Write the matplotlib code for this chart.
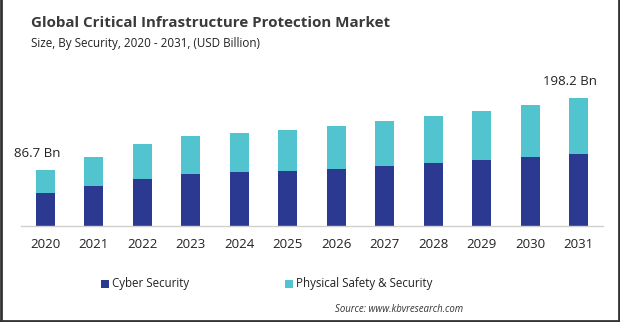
import matplotlib
matplotlib.use("Agg")
import matplotlib.pyplot as plt
from matplotlib.patches import Rectangle
from matplotlib.lines import Line2D

years = ["2020", "2021", "2022", "2023", "2024", "2025", "2026", "2027", "2028", "2029", "2030", "2031"]
cyber = [51.1, 61.9, 72.8, 80.5, 83.6, 85.1, 88.2, 92.9, 97.5, 102.2, 106.8, 111.5]
totals = [86.7, 106.8, 126.9, 139.3, 144.0, 148.6, 154.8, 162.5, 170.3, 178.0, 187.3, 198.2]
physical = [t - c for t, c in zip(totals, cyber)]
series_names = ["Cyber Security", "Physical Safety & Security"]
annot_idx = [0, 11]

c_cyber = "#2b3990"
c_phys = "#52c4cf"
font = ["Open Sans", "DejaVu Sans"]

W, H = 620, 322
fig = plt.figure(figsize=(W / 100, H / 100), dpi=100)
ax = fig.add_axes([21 / W, (H - 226) / H, 582 / W, 146 / H])
x = list(range(len(years)))
ax.bar(x, cyber, width=0.39, color=c_cyber, zorder=2)
ax.bar(x, physical, width=0.39, bottom=cyber, color=c_phys, zorder=2)
ax.set_xlim(-0.5, 11.5)
ax.set_ylim(0, 226)
for s in ["top", "right", "left"]:
    ax.spines[s].set_visible(False)
ax.spines["bottom"].set_color("#d0d0d0")
ax.spines["bottom"].set_linewidth(1.0)
ax.set_yticks([])
ax.set_xticks(x)
ax.set_xticklabels(years, family=font, fontsize=9.5, color="#222222")
ax.tick_params(axis="x", length=0, pad=9)

for i in annot_idx:
    ax.annotate(f"{totals[i]} Bn", (x[i], totals[i]), xytext=(-6, 7), textcoords="offset points",
                ha="center", va="bottom", family=font, fontsize=9.5, color="#222222")

fig.text(31 / W, 1 - 23 / H, "Global Critical Infrastructure Protection Market", family=font,
         fontsize=10.9, fontweight="bold", color="#3a3a3a", va="center", ha="left")
fig.text(31 / W, 1 - 43 / H, "Size, By Security, 2020 - 2031, (USD Billion)", family=font,
         fontsize=8.4, color="#222222", va="center", ha="left")

# legend
for (sx, tx, name, col) in [(101, 112, series_names[0], c_cyber), (285, 296, series_names[1], c_phys)]:
    fig.patches.append(Rectangle((sx / W, 1 - 288 / H), 8 / W, 8 / H, transform=fig.transFigure,
                                 facecolor=col, edgecolor="none"))
    fig.text(tx / W, 1 - 284 / H, name, family=font, fontsize=8.3, color="#222222", va="center", ha="left")

fig.text(463 / W, 1 - 309 / H, "Source: www.kbvresearch.com", family=font, fontsize=6.9,
         style="italic", color="#333333", va="center", ha="right")

# frame
for xs, ys in [([0.5 / W, 0.5 / W], [0, 1]), ([1 - 1 / W, 1 - 1 / W], [0, 1]), ([0, 1], [1 / H, 1 / H])]:
    fig.add_artist(Line2D(xs, ys, transform=fig.transFigure, color="#333333", linewidth=2))

fig.savefig("out.png", dpi=100, facecolor="white")
